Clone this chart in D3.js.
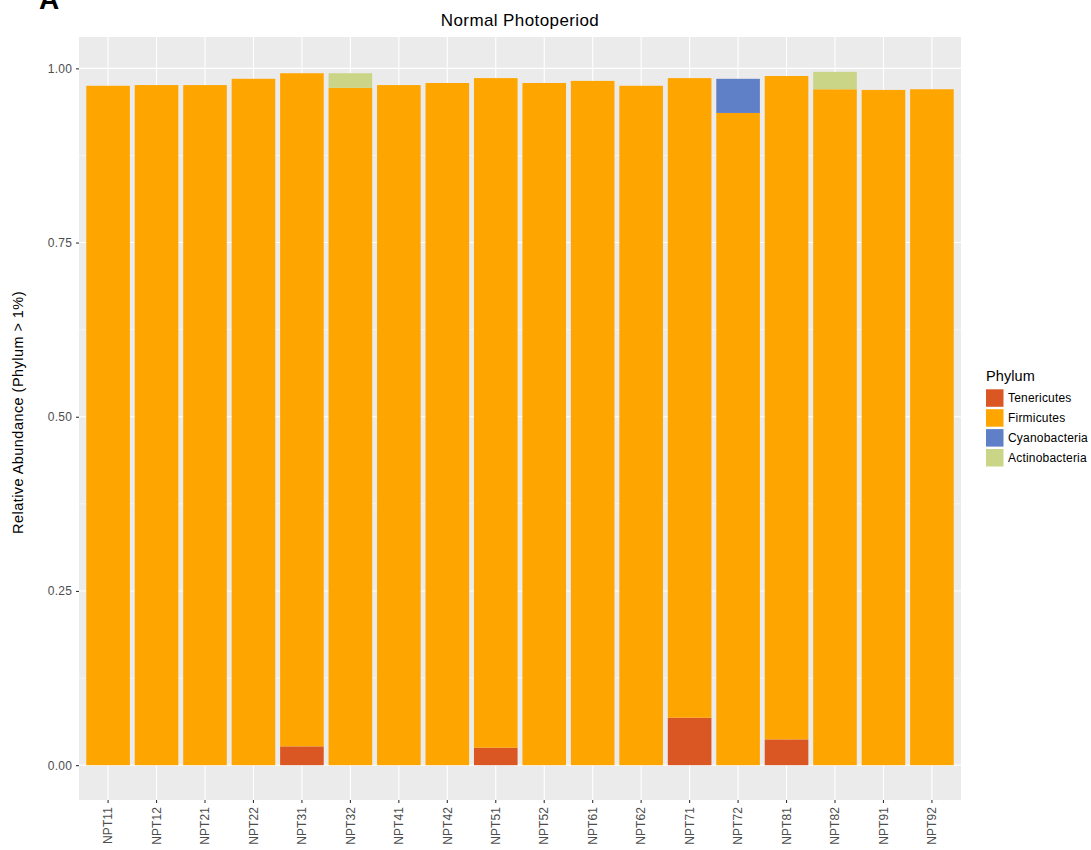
<!DOCTYPE html>
<html><head><meta charset="utf-8">
<script src="https://cdn.jsdelivr.net/npm/d3@7"></script>
<style>body{margin:0;background:#fff;} text{font-family:"Liberation Sans",Arial,sans-serif;}</style>
</head><body>
<svg id="c" width="1091" height="850"></svg>
<script>
const samples = ["NPT11","NPT12","NPT21","NPT22","NPT31","NPT32","NPT41","NPT42","NPT51","NPT52","NPT61","NPT62","NPT71","NPT72","NPT81","NPT82","NPT91","NPT92"];
const tenericutes    = [0,0,0,0,0.027,0,0,0,0.025,0,0,0,0.068,0,0.037,0,0,0];
const firmicutes     = [0.975,0.976,0.976,0.985,0.966,0.972,0.976,0.979,0.961,0.979,0.982,0.975,0.918,0.936,0.952,0.970,0.969,0.970];
const cyanobacteria  = [0,0,0,0,0,0,0,0,0,0,0,0,0,0.049,0,0,0,0];
const actinobacteria = [0,0,0,0,0,0.021,0,0,0,0,0,0,0,0,0,0.025,0,0];
const phyla = ["Tenericutes","Firmicutes","Cyanobacteria","Actinobacteria"];
const colors = ["#DA5724","#FFA500","#5F7FC7","#CBD588"];
const yTicks = [0,0.25,0.5,0.75,1];
const yMinor = [0.125,0.375,0.625,0.875];

const svg = d3.select("#c");
const L=79, R=961, T=37, B=800;
const x = d3.scaleBand().domain(samples).range([L,R]).paddingInner(0.1).paddingOuter(0.15);
const y = d3.scaleLinear().domain([-0.05,1.045]).range([B,T]);

svg.append("rect").attr("x",L).attr("y",T).attr("width",R-L).attr("height",B-T).attr("fill","#EBEBEB");
svg.append("g").selectAll("line").data(yMinor).join("line")
  .attr("x1",L).attr("x2",R).attr("y1",d=>y(d)).attr("y2",d=>y(d)).attr("stroke","#fff").attr("stroke-width",0.55);
svg.append("g").selectAll("line").data(yTicks).join("line")
  .attr("x1",L).attr("x2",R).attr("y1",d=>y(d)).attr("y2",d=>y(d)).attr("stroke","#fff").attr("stroke-width",1.1);
svg.append("g").selectAll("line").data(samples).join("line")
  .attr("x1",d=>x(d)+x.bandwidth()/2).attr("x2",d=>x(d)+x.bandwidth()/2).attr("y1",T).attr("y2",B).attr("stroke","#fff").attr("stroke-width",1.1);

const rows = samples.map((s,i)=>({sample:s,Tenericutes:tenericutes[i],Firmicutes:firmicutes[i],Cyanobacteria:cyanobacteria[i],Actinobacteria:actinobacteria[i]}));
const stack = d3.stack().keys(phyla)(rows);
svg.append("g").selectAll("g").data(stack).join("g").attr("fill",(d,i)=>colors[i])
  .selectAll("rect").data(d=>d.filter(p=>p[1]-p[0]>0)).join("rect")
  .attr("x",d=>x(d.data.sample)).attr("width",x.bandwidth())
  .attr("y",d=>y(d[1])).attr("height",d=>y(d[0])-y(d[1]));

// axes
const yAxis = svg.append("g").attr("transform",`translate(${L},0)`)
  .call(d3.axisLeft(y).tickValues(yTicks).tickFormat(d3.format(".2f")).tickSize(3).tickPadding(4));
yAxis.select(".domain").remove();
yAxis.selectAll("line").attr("stroke","#333").attr("stroke-width",1.1);
yAxis.selectAll("text").attr("fill","#4D4D4D").style("font-size","12px").style("letter-spacing","0.2px");

const xAxis = svg.append("g").attr("transform",`translate(0,${B})`)
  .call(d3.axisBottom(x).tickSize(3).tickPadding(3));
xAxis.select(".domain").remove();
xAxis.selectAll("line").attr("stroke","#333").attr("stroke-width",1.1);
xAxis.selectAll("text").attr("fill","#4D4D4D").style("font-size","12px").style("letter-spacing","0.1px")
  .attr("transform","rotate(-90)").attr("text-anchor","end").attr("x",-7).attr("y",0).attr("dy","0.35em");

svg.append("text").attr("x",(L+R)/2).attr("y",26).attr("text-anchor","middle").style("font-size","17px").style("letter-spacing","0.4px").text("Normal Photoperiod");
svg.append("text").attr("transform",`translate(23,${(T+B)/2 - 6}) rotate(-90)`).attr("text-anchor","middle").style("font-size","14.5px").style("letter-spacing","0.45px").text("Relative Abundance (Phylum > 1%)");
svg.append("text").attr("x",39).attr("y",9).style("font-size","28px").style("font-weight","bold").text("A");

// legend
const lg = svg.append("g").attr("transform","translate(986,0)");
lg.append("text").attr("x",0).attr("y",381).style("font-size","14.5px").style("letter-spacing","0.1px").text("Phylum");
phyla.forEach((p,i)=>{
  lg.append("rect").attr("x",0).attr("y",389.3+i*19.9).attr("width",17.5).attr("height",17.5).attr("fill",colors[i]);
  lg.append("text").attr("x",22).attr("y",389.3+i*19.9+8.75).attr("dy","0.35em").style("font-size","12px").style("letter-spacing","0.2px").text(p);
});
</script>
</body></html>
